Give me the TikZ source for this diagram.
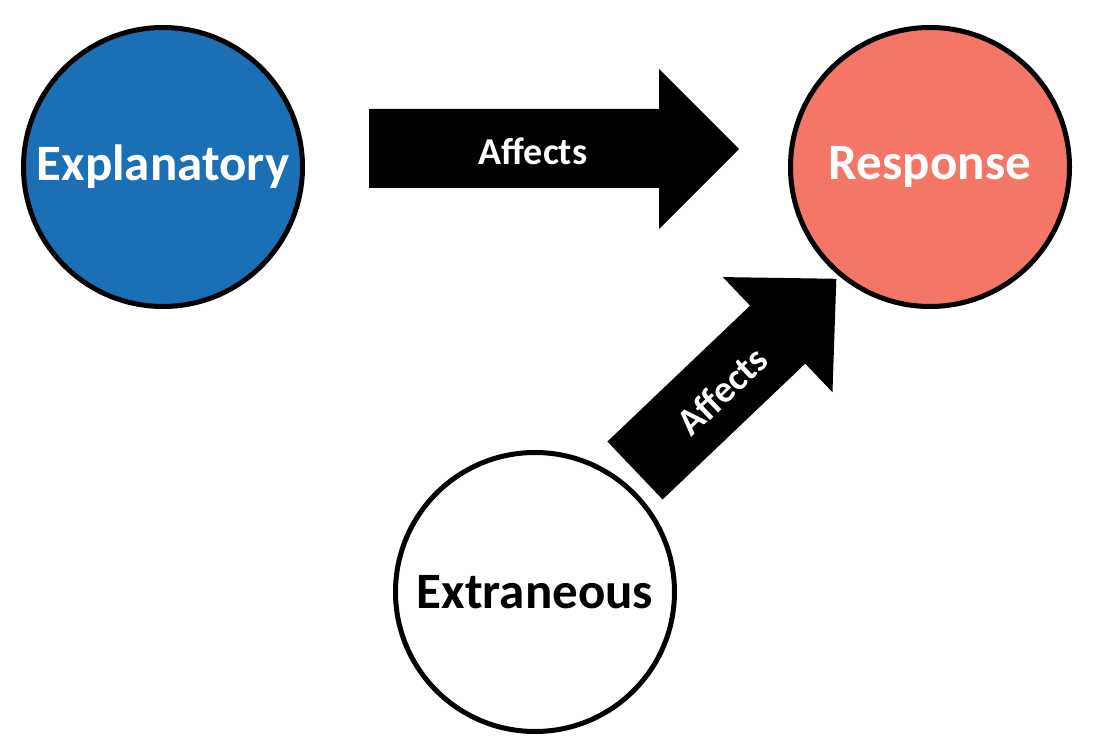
\documentclass[tikz,border=0pt]{standalone}
\usepackage{fontspec}
\setmainfont{Carlito}
\definecolor{expblue}{HTML}{1B6FB5}
\definecolor{ressalmon}{HTML}{F37666}
\begin{document}
\begin{tikzpicture}[x=1pt,y=-1pt,
  varcircle/.style={circle,draw=black,line width=5pt,minimum size=279pt,inner sep=0pt,font=\fontsize{51}{55}\selectfont\bfseries},
  arrowlabel/.style={font=\fontsize{38}{42}\selectfont\bfseries,text=white,inner sep=0pt}]
\useasboundingbox (0,0) rectangle (1101,743);
\node[varcircle,fill=expblue,text=white] (exp) at (163,167) {Explanatory};
\node[varcircle,fill=ressalmon,text=white] (res) at (930,167) {Response};
\node[varcircle,fill=white,text=black] (ext) at (535,592) {Extraneous};
% horizontal block arrow
\fill[black] (369,109) -- (659,109) -- (659,69) -- (739,149) -- (659,229) -- (659,188) -- (369,188) -- cycle;
\node[arrowlabel] (a1) at (533,151) {Affects};
% diagonal block arrow
\begin{scope}[shift={(635,470.5)},rotate=43.6]
\fill[black] (0,-40) -- (197,-40) -- (197,-79.5) -- (278,0) -- (197,79.5) -- (197,40) -- (0,40) -- cycle;
\end{scope}
\node[arrowlabel,rotate=43.6] (a2) at (722,391) {Affects};
\end{tikzpicture}
\end{document}
